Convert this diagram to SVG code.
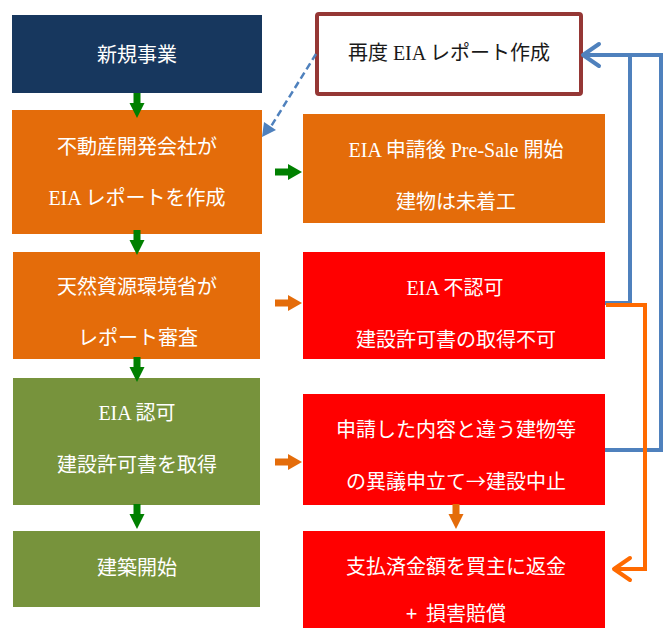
<svg xmlns="http://www.w3.org/2000/svg" xmlns:xlink="http://www.w3.org/1999/xlink" width="672" height="628" viewBox="0 0 672 628">
<style>
text{font-family:"Liberation Serif","Noto Sans CJK JP",serif;font-size:20px;fill:#ffffff;text-anchor:middle}
.lat{font-family:"Liberation Serif",serif}
.cjk{font-family:"Noto Sans CJK JP",sans-serif}
.dark{fill:#1a1a1a}
.navy{fill:#17375e}
.org{fill:#e46c0a}
.grn{fill:#77933c}
.red{fill:#ff0000}
.blue{fill:none;stroke:#4f81bd;stroke-width:4}
.oline{fill:none;stroke:#ff6a00;stroke-width:4}
</style>
<defs>
<path id="dn" d="M-3.5,0 H3.5 V10 H7.5 L0,25 L-7.5,10 H-3.5 Z"/>
<path id="rt" d="M0,-3.5 V3.5 H13 V8 L27,0 L13,-8 V-3.5 Z"/>
</defs>
<g id="n1"><rect class="navy" x="12" y="15" width="250" height="78"/><text x="137" y="62">新規事業</text></g>
<g id="n2"><rect class="org" x="12" y="110" width="250" height="124"/><text x="137" y="154">不動産開発会社が</text><text x="137" y="205"><tspan class="lat">EIA </tspan>レポートを作成</text></g>
<g id="n3"><rect class="org" x="13" y="252" width="247" height="107"/><text x="137" y="294">天然資源環境省が</text><text x="138" y="345">レポート審査</text></g>
<g id="n4"><rect class="grn" x="13" y="378" width="247" height="127"/><text x="137" y="420"><tspan class="lat">EIA </tspan>認可</text><text x="137" y="472">建設許可書を取得</text></g>
<g id="n5"><rect class="grn" x="13" y="531" width="247" height="76"/><text x="137" y="575">建築開始</text></g>
<g id="n6"><rect x="317" y="14" width="264" height="80" rx="2" fill="#ffffff" stroke="#953735" stroke-width="4"/><text class="dark" x="449" y="60">再度<tspan class="lat"> EIA </tspan>レポート作成</text></g>
<g id="n7"><rect class="org" x="303" y="114" width="302" height="109"/><text x="456" y="157"><tspan class="lat">EIA </tspan>申請後<tspan class="lat"> Pre-Sale </tspan>開始</text><text x="456" y="209">建物は未着工</text></g>
<g id="n8"><rect class="red" x="303" y="252" width="302" height="107"/><text x="455" y="295"><tspan class="lat">EIA </tspan>不認可</text><text x="456" y="347">建設許可書の取得不可</text></g>
<g id="n9"><rect class="red" x="303" y="394" width="302" height="111"/><text x="456" y="437">申請した内容と違う建物等</text><text x="456" y="489">の異議申立て<tspan class="cjk">→</tspan>建設中止</text></g>
<g id="n10"><rect class="red" x="303" y="531" width="302" height="97"/><text x="456" y="574">支払済金額を買主に返金</text><text x="456" y="621"><tspan class="cjk">+&#160;&#160;</tspan>損害賠償</text></g>
<g id="connectors">
<use xlink:href="#dn" href="#dn" transform="translate(137,93)" fill="#008000"/>
<use xlink:href="#dn" href="#dn" transform="translate(137,230)" fill="#008000"/>
<use xlink:href="#dn" href="#dn" transform="translate(137,357)" fill="#008000"/>
<use xlink:href="#dn" href="#dn" transform="translate(137,504)" fill="#008000"/>
<use xlink:href="#rt" href="#rt" transform="translate(275,172)" fill="#008000"/>
<use xlink:href="#rt" href="#rt" transform="translate(275,303)" fill="#e46c0a"/>
<use xlink:href="#rt" href="#rt" transform="translate(275,462)" fill="#e46c0a"/>
<use xlink:href="#dn" href="#dn" transform="translate(456,504)" fill="#e46c0a"/>
<line x1="316" y1="54" x2="270" y2="128" stroke="#4f81bd" stroke-width="2.5" stroke-dasharray="7,4"/>
<polygon points="262,137 264,122 276,130" fill="#4f81bd"/>
<path class="blue" d="M605,450 H661 V55 H584"/>
<path class="blue" d="M605,303 H630 V55"/>
<polyline class="blue" points="599,44 583,55 599,66" stroke-linecap="round" stroke-linejoin="round"/>
<path class="oline" d="M606,305 H645 V569 H614"/>
<polyline class="oline" points="630,558 614,569 630,580" stroke-linecap="round" stroke-linejoin="round"/>
</g>
</svg>
